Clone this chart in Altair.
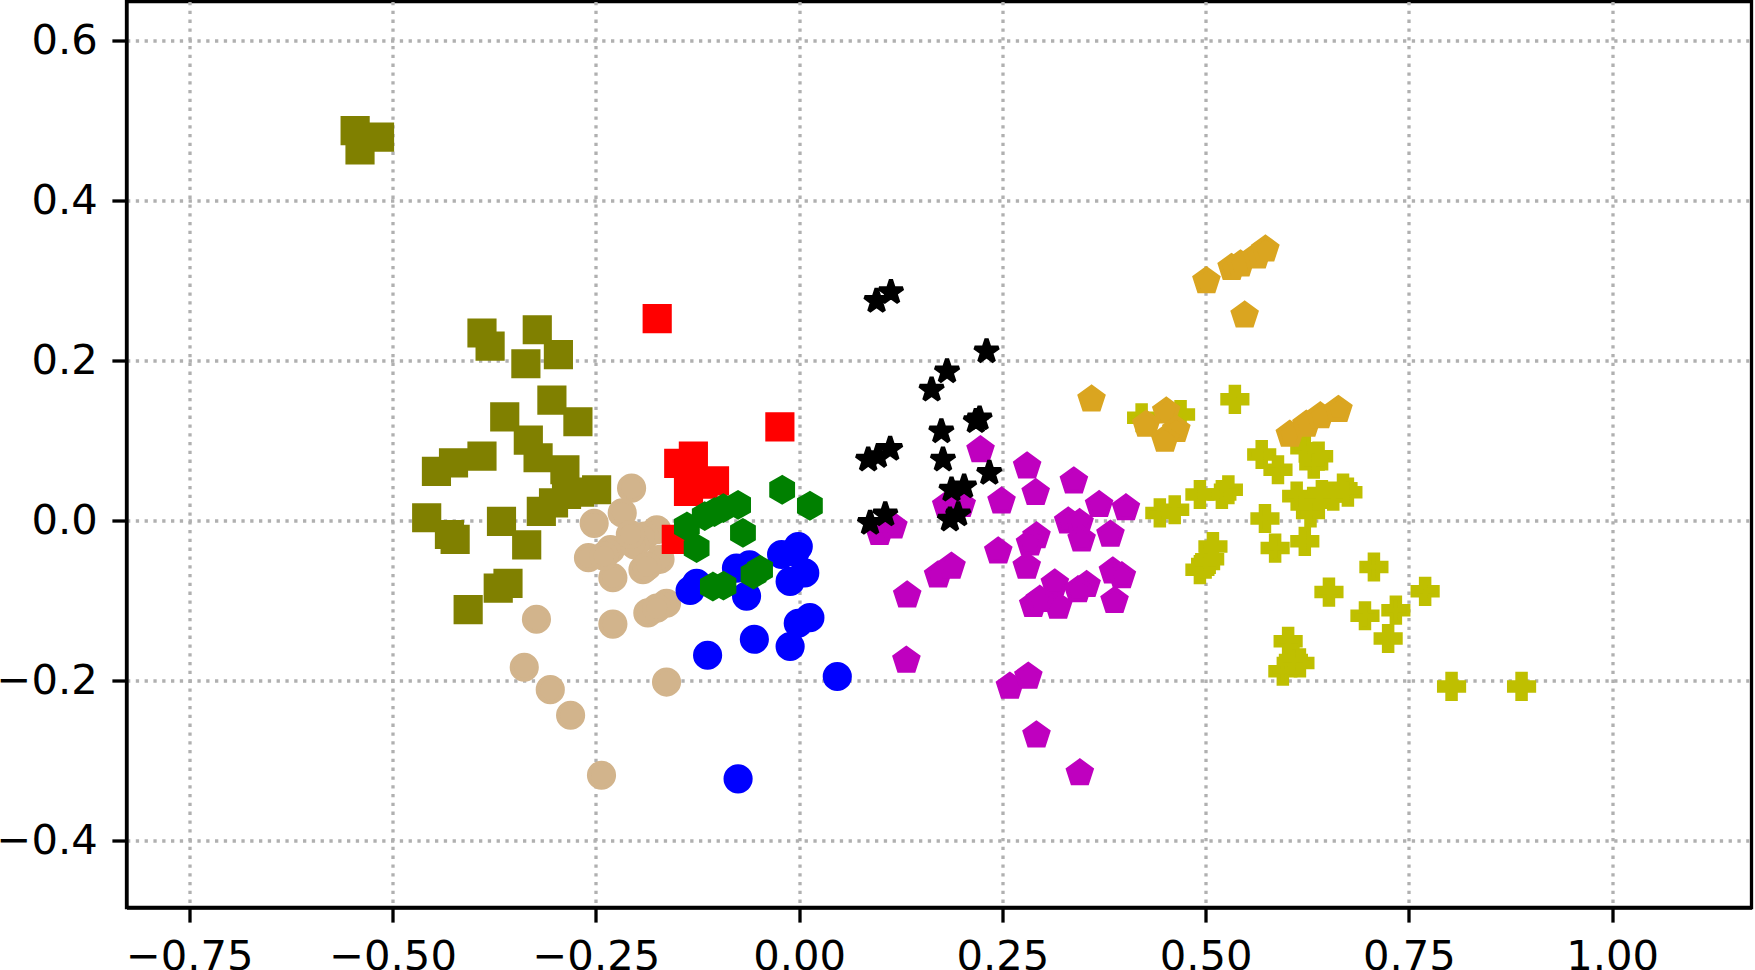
import altair as alt
import pandas as pd

# ---------------- data ----------------
olive_x = [-0.546, -0.516, -0.540, -0.390, -0.380, -0.322, -0.336, -0.296, -0.304, -0.272,
           -0.362, -0.333, -0.321, -0.446, -0.425, -0.390, -0.288, -0.249, -0.317, -0.302,
           -0.286, -0.270, -0.458, -0.423, -0.430, -0.366, -0.335, -0.370, -0.358, -0.407]
olive_y = [0.487, 0.479, 0.463, 0.234, 0.2175, 0.238, 0.1955, 0.207, 0.150, 0.123,
           0.129, 0.100, 0.078, 0.061, 0.0716, 0.080, 0.063, 0.038, 0.011, 0.0215,
           0.032, 0.035, 0.003, -0.024, -0.018, -0.0015, -0.031, -0.085, -0.079, -0.112]

tan_x = [-0.206, -0.2175, -0.252, -0.175, -0.190, -0.259, -0.232, -0.229, -0.192, -0.171,
         -0.202, -0.240, -0.323, -0.229, -0.186, -0.163, -0.175, -0.338, -0.306, -0.281,
         -0.163, -0.243, -0.187, -0.2075]
tan_y = [0.040, 0.009, -0.004, -0.012, -0.020, -0.047, -0.037, -0.072, -0.062, -0.049,
         -0.031, -0.045, -0.124, -0.130, -0.116, -0.104, -0.110, -0.184, -0.212, -0.244,
         -0.2025, -0.319, -0.058, -0.018]

red_x = [-0.1745, -0.0236, -0.148, -0.130, -0.136, -0.104, -0.118, -0.151]
red_y = [0.252, 0.1166, 0.071, 0.080, 0.036, 0.049, 0.045, -0.024]

blue_x = [-0.001, -0.0215, -0.077, -0.061, 0.007, -0.011, -0.134, -0.126, -0.0646, 0.0133,
          -0.001, -0.055, -0.011, -0.1125, 0.047, -0.075, -0.005]
blue_y = [-0.033, -0.043, -0.060, -0.056, -0.066, -0.0766, -0.088, -0.079, -0.095, -0.122,
          -0.129, -0.149, -0.158, -0.169, -0.1955, -0.3235, -0.040]

green_x = [-0.0208, 0.0133, -0.075, -0.138, -0.116, -0.093, -0.104, -0.069, -0.126, -0.106,
           -0.093, -0.056, -0.048]
green_y = [0.038, 0.018, 0.019, -0.008, 0.005, 0.015, 0.010, -0.016, -0.035, -0.083,
           -0.082, -0.068, -0.062]

magenta_x = [0.2232, 0.2805, 0.338, 0.291, 0.249, 0.369, 0.402, 0.1855, 0.181, 0.200,
             0.099, 0.116, 0.292, 0.284, 0.331, 0.345, 0.3475, 0.383, 0.245, 0.280,
             0.171, 0.1875, 0.386, 0.397, 0.3146, 0.3536, 0.343, 0.288, 0.3187, 0.296,
             0.388, 0.133, 0.132, 0.2593, 0.282, 0.292, 0.3453]
magenta_y = [0.0876, 0.0673, 0.0486, 0.034, 0.0235, 0.019, 0.015, 0.019, 0.018, 0.019,
             -0.016, -0.0078, -0.020, -0.029, -0.0015, -0.0035, -0.024, -0.018, -0.039, -0.058,
             -0.069, -0.058, -0.064, -0.070, -0.079, -0.081, -0.0876, -0.106, -0.108, -0.0995,
             -0.101, -0.094, -0.1755, -0.208, -0.1955, -0.269, -0.3164]

black_x = [0.0953, 0.113, 0.2306, 0.182, 0.163, 0.2174, 0.222, 0.175, 0.085, 0.097,
           0.112, 0.177, 0.234, 0.1875, 0.203, 0.1957, 0.1855, 0.0873, 0.106]
black_y = [0.274, 0.285, 0.211, 0.186, 0.163, 0.1237, 0.127, 0.111, 0.0757, 0.080,
           0.089, 0.0757, 0.059, 0.038, 0.042, 0.007, 0.0006, -0.0035, 0.007]

yellow_x = [0.536, 0.4213, 0.4692, 0.569, 0.589, 0.622, 0.639, 0.633, 0.4437, 0.462,
            0.493, 0.528, 0.520, 0.612, 0.6323, 0.643, 0.669, 0.675, 0.657, 0.629,
            0.573, 0.5855, 0.622, 0.509, 0.505, 0.493, 0.500, 0.707, 0.6517, 0.696,
            0.734, 0.7245, 0.770, 0.6015, 0.616, 0.595, 0.608, 0.8025, 0.8886]
yellow_y = [0.151, 0.128, 0.132, 0.082, 0.063, 0.090, 0.080, 0.070, 0.009, 0.013,
            0.032, 0.038, 0.032, 0.030, 0.0235, 0.032, 0.040, 0.035, 0.030, 0.009,
            0.002, -0.035, -0.0265, -0.033, -0.049, -0.062, -0.055, -0.0586, -0.090, -0.1196,
            -0.1126, -0.148, -0.089, -0.1515, -0.1786, -0.189, -0.175, -0.208, -0.208]

gold_x = [0.501, 0.532, 0.543, 0.563, 0.5735, 0.548, 0.4516, 0.427, 0.464, 0.450,
          0.6036, 0.624, 0.641, 0.6634, 0.3597]
gold_y = [0.299, 0.3156, 0.320, 0.330, 0.3386, 0.256, 0.136, 0.1195, 0.113, 0.1008,
          0.107, 0.1195, 0.130, 0.138, 0.151]

x_ticks = [-0.75, -0.5, -0.25, 0.0, 0.25, 0.5, 0.75, 1.0]
y_ticks = [-0.4, -0.2, 0.0, 0.2, 0.4, 0.6]

# ---------------- marker shapes (unit box -1..1) ----------------
SQUARE = "M-1,-1H1V1H-1Z"
PENT = "M0,-1L-0.9511,-0.309L-0.5878,0.809L0.5878,0.809L0.9511,-0.309Z"
HEX = "M0,-1L-0.866,-0.5L-0.866,0.5L0,1L0.866,0.5L0.866,-0.5Z"
STAR = ("M0,-1L-0.2245,-0.309L-0.9511,-0.309L-0.3633,0.118L-0.5878,0.809L0,0.382"
        "L0.5878,0.809L0.3633,0.118L0.9511,-0.309L0.2245,-0.309Z")
PLUS = ("M-0.3333,-1H0.3333V-0.3333H1V0.3333H0.3333V1H-0.3333V0.3333H-1V-0.3333H-0.3333Z")

series = [
    (olive_x, olive_y, "#808000", SQUARE, "miter"),
    (tan_x, tan_y, "#d2b48c", "circle", "round"),
    (red_x, red_y, "#ff0000", SQUARE, "miter"),
    (blue_x, blue_y, "#0000ff", "circle", "round"),
    (green_x, green_y, "#008000", HEX, "miter"),
    (magenta_x, magenta_y, "#bf00bf", PENT, "miter"),
    (black_x, black_y, "#000000", STAR, "bevel"),
    (yellow_x, yellow_y, "#bfbf00", PLUS, "miter"),
    (gold_x, gold_y, "#daa520", PENT, "miter"),
]

xscale = alt.Scale(domain=[-0.8272, 1.1714], nice=False, zero=False)
yscale = alt.Scale(domain=[-0.4844, 0.6485], nice=False, zero=False)
xaxis = alt.Axis(values=x_ticks, format=".2f", title=None, labelPadding=14)
yaxis = alt.Axis(values=y_ticks, format=".1f", title=None, labelPadding=14.6)

layers = []
for xs, ys, col, shp, join in series:
    df = pd.DataFrame({"x": xs, "y": ys})
    layers.append(
        alt.Chart(df).mark_point(
            shape=shp, filled=True, fill=col, stroke=col, strokeWidth=4.17,
            size=625, opacity=1, strokeJoin=join
        ).encode(
            x=alt.X("x:Q", scale=xscale, axis=xaxis),
            y=alt.Y("y:Q", scale=yscale, axis=yaxis),
        )
    )

chart = alt.layer(*layers).properties(
    width=1625, height=906,
    padding={"left": 126.5, "top": 1.5, "right": 3.5, "bottom": 62.5},
    autosize=alt.AutoSizeParams(type="none"),
    background="white",
).configure_view(
    stroke="black", strokeWidth=3.3
).configure_axis(
    grid=True, gridColor="#b0b0b0", gridDash=[3.3, 5.5], gridWidth=3.3, gridOpacity=1,
    domainColor="black", domainWidth=3.3, tickColor="black", tickWidth=3.3, tickSize=14.6,
    labelFont="DejaVu Sans", labelFontSize=41.7, labelColor="black", zindex=1,
    labelOverlap=False, labelFlush=False,
)

chart.save("out.html", embed_options={"renderer": "svg", "actions": False})
